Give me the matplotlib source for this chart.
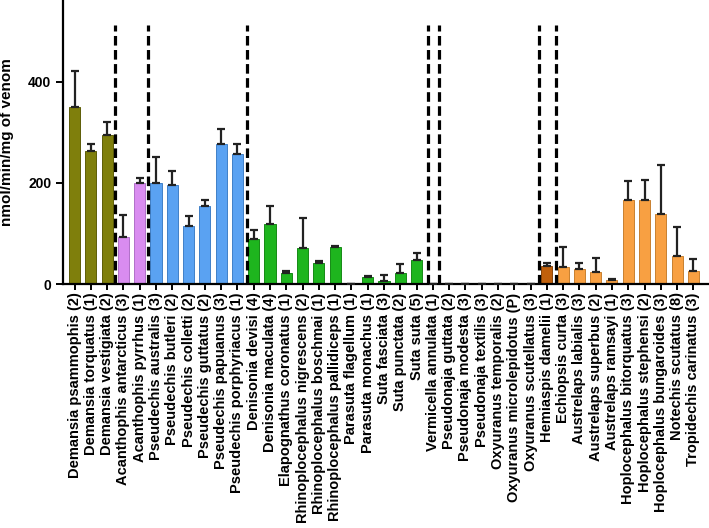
import numpy as np
from matplotlib import pyplot as plt

species = ["Demansia psammophis (2)", "Demansia torquatus (1)", "Demansia vestigiata (2)",
           "Acanthophis antarcticus (3)", "Acanthophis pyrrhus (1)",
           "Pseudechis australis (3)", "Pseudechis butleri (2)", "Pseudechis colletti (2)",
           "Pseudechis guttatus (2)", "Pseudechis papuanus (3)", "Pseudechis porphyriacus (1)",
           "Denisonia devisi (4)", "Denisonia maculata (4)", "Elapognathus coronatus (1)",
           "Rhinoplocephalus nigrescens (2)", "Rhinoplocephalus boschmai (1)",
           "Rhinoplocephalus pallidiceps (1)", "Parasuta flagellum (1)", "Parasuta monachus (1)",
           "Suta fasciata (3)", "Suta punctata (2)", "Suta suta (5)",
           "Vermicella annulata (1)",
           "Pseudonaja guttata (2)", "Pseudonaja modesta (3)", "Pseudonaja textilis (3)",
           "Oxyuranus temporalis (2)", "Oxyuranus microlepidotus (P)", "Oxyuranus scutellatus (3)",
           "Hemiaspis damelii (1)",
           "Echiopsis curta (3)", "Austrelaps labialis (3)", "Austrelaps superbus (2)",
           "Austrelaps ramsayi (1)", "Hoplocephalus bitorquatus (3)", "Hoplocephalus stephensi (2)",
           "Hoplocephalus bungaroides (3)", "Notechis scutatus (8)", "Tropidechis carinatus (3)"]

# mean activity and upper error (sd)
activity = [350, 264, 294, 93, 200,
            199, 197, 115, 155, 278, 257,
            90, 119, 22, 71, 41, 73, 0, 14, 7, 21, 48,
            0,
            0, 0, 0, 0, 0, 0,
            36,
            34, 29, 24, 8, 167, 166, 139, 55, 26]
error = [72, 13, 27, 44, 10,
         53, 27, 20, 11, 28, 20,
         16, 35, 4, 60, 5, 3, 0, 2, 11, 19, 13,
         0,
         0, 0, 0, 0, 0, 0,
         6,
         39, 12, 27, 2.5, 37, 39, 97, 58, 24]

group = (["olive"] * 3 + ["violet"] * 2 + ["blue"] * 6 + ["green"] * 11 + ["none"] * 7
         + ["darkorange"] + ["orange"] * 9)
group_colors = {"olive": "#7f7f0c", "violet": "#d98cf0", "blue": "#5aa2f2",
                "green": "#1eb51e", "none": "#888888", "darkorange": "#c0600c",
                "orange": "#f8a042"}
group_edges = {"olive": "#5e5e08", "violet": "#b070c8", "blue": "#4080c8",
               "green": "#168a16", "none": "#666666", "darkorange": "#8a4508",
               "orange": "#c88030"}

# clade separators (between bars)
separators = [2.49, 4.49, 10.56, 21.72, 22.40, 28.51, 29.54]

fig = plt.figure(figsize=(7.09, 5.28), dpi=100)
ax = fig.add_axes([0.0889, 0.462, 0.9097, 0.536])

x = np.arange(len(species))
ax.bar(x, activity, width=0.68, color=[group_colors[g] for g in group],
       edgecolor=[group_edges[g] for g in group], linewidth=0.7, zorder=2)
ax.errorbar(x, activity, yerr=[np.zeros(len(error)), error], fmt="none",
            ecolor="#222222", elinewidth=1.6, capsize=3.2, capthick=1.6, zorder=3)

for s in separators:
    ax.plot([s, s], [0, 513], color="black", lw=2.3, dashes=(3, 1.4), zorder=4)

ax.set_xlim(-0.71, 38.9)
ax.set_ylim(0, 560)
ax.set_yticks([0, 200, 400])
ax.set_xticks(x)
ax.set_xticklabels(species, rotation=90, fontsize=10.5, fontweight="bold",
                   family="Liberation Sans")
for lab in ax.get_yticklabels():
    lab.set_fontweight("bold")
    lab.set_family("Liberation Sans")
    lab.set_fontsize(10)
ax.set_ylabel("nmol/min/mg of venom", fontsize=11, fontweight="bold",
              family="Liberation Sans", labelpad=10)

ax.spines["top"].set_visible(False)
ax.spines["right"].set_visible(False)
ax.spines["left"].set_linewidth(1.6)
ax.spines["bottom"].set_linewidth(1.6)
ax.tick_params(axis="both", width=1.4, length=5, color="black")
ax.tick_params(axis="x", length=4, pad=2)

plt.savefig("out.png", dpi=100)
